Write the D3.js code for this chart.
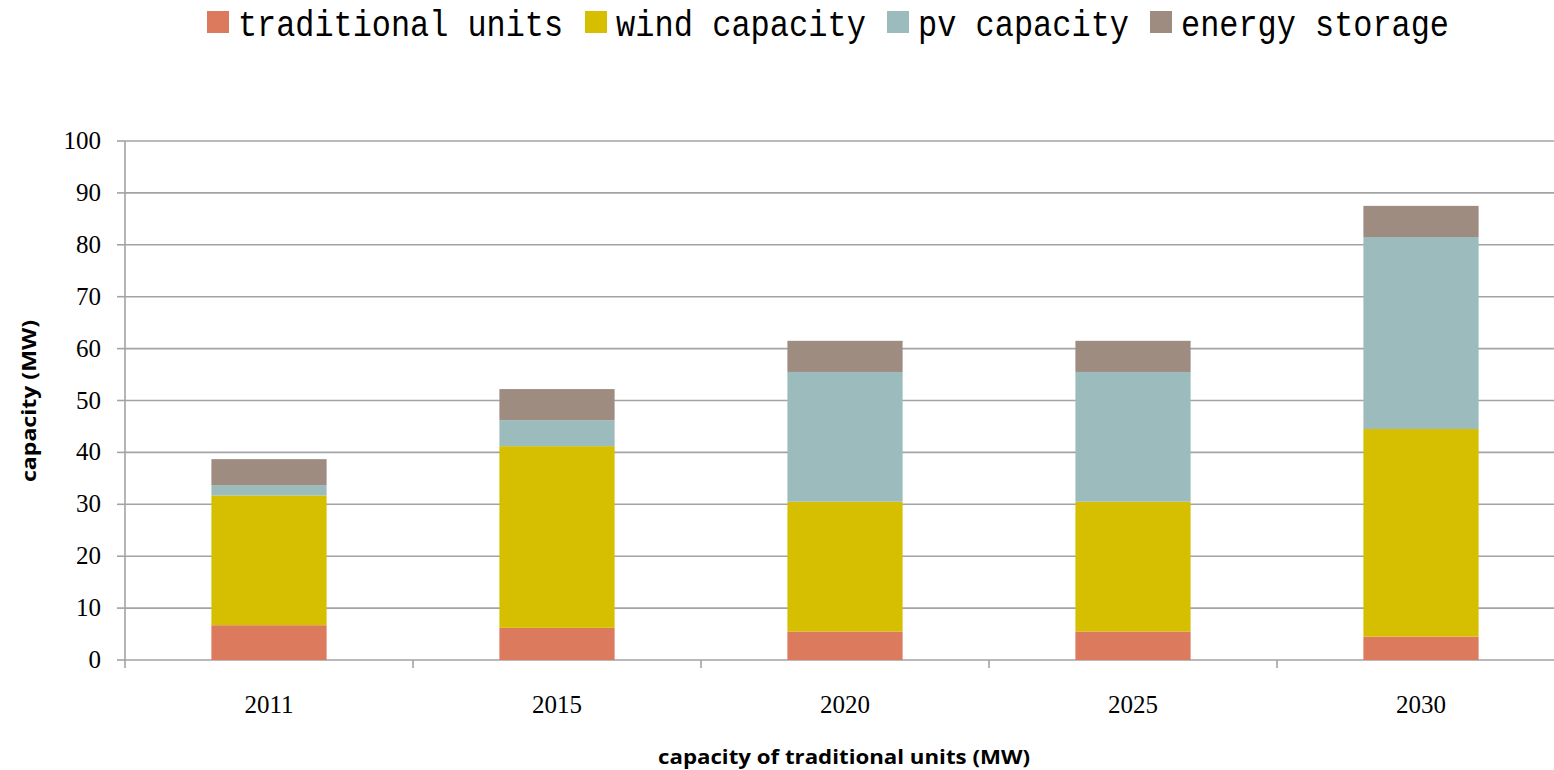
<!DOCTYPE html>
<html>
<head>
<meta charset="utf-8">
<script src="https://cdn.jsdelivr.net/npm/d3@7/dist/d3.min.js"></script>
<style>
  html, body { margin: 0; padding: 0; background: #fff; }
  svg { display: block; }
</style>
</head>
<body>
<svg id="chart" width="1554" height="770"></svg>
<script>
const years = ["2011", "2015", "2020", "2025", "2030"];
const traditionalUnits = [6.7, 6.2, 5.5, 5.5, 4.5];
const windCapacity = [25, 35, 25, 25, 40];
const pvCapacity = [2, 5, 25, 25, 37];
const energyStorage = [5, 6, 6, 6, 6];
const seriesNames = ["traditional units", "wind capacity", "pv capacity", "energy storage"];
const seriesColors = ["#dc7a5d", "#d5bf00", "#9cbbbc", "#9e8c81"];
const yTicks = [0, 10, 20, 30, 40, 50, 60, 70, 80, 90, 100];

const seriesKeys = ["trad", "wind", "pv", "storage"];
const rows = years.map((yr, i) => ({
  year: yr,
  trad: traditionalUnits[i],
  wind: windCapacity[i],
  pv: pvCapacity[i],
  storage: energyStorage[i]
}));

const svg = d3.select("#chart");
const plotLeft = 125, plotTop = 141, plotBottom = 660;
const bandW = 288;
const plotRight = plotLeft + bandW * years.length;

const x = d3.scaleBand().domain(years).range([plotLeft, plotRight]).paddingInner(0.6).paddingOuter(0.3);
const xOuter = d3.scaleBand().domain(years).range([plotLeft, plotRight]).padding(0);
const y = d3.scaleLinear().domain([0, 100]).range([plotBottom, plotTop]);
const gridColor = "#a3a3a3";

// gridlines
svg.append("g").selectAll("line").data(yTicks).join("line")
  .attr("x1", plotLeft).attr("x2", 1554)
  .attr("y1", d => y(d)).attr("y2", d => y(d))
  .attr("stroke", gridColor).attr("stroke-width", 1.6);

// y axis line and ticks
svg.append("line").attr("x1", plotLeft).attr("x2", plotLeft).attr("y1", plotTop).attr("y2", plotBottom + 8)
  .attr("stroke", gridColor).attr("stroke-width", 1.6);
svg.append("g").selectAll("line").data(yTicks).join("line")
  .attr("x1", plotLeft - 8).attr("x2", plotLeft)
  .attr("y1", d => y(d)).attr("y2", d => y(d))
  .attr("stroke", gridColor).attr("stroke-width", 1.6);

// x ticks at band boundaries
const xBoundaries = years.slice(1).map(yr => xOuter(yr));
svg.append("g").selectAll("line").data(xBoundaries).join("line")
  .attr("x1", d => d).attr("x2", d => d)
  .attr("y1", plotBottom).attr("y2", plotBottom + 8)
  .attr("stroke", gridColor).attr("stroke-width", 1.6);

// y labels
svg.append("g").selectAll("text").data(yTicks).join("text")
  .attr("x", 101).attr("y", d => y(d) + 8)
  .attr("text-anchor", "end")
  .attr("font-family", "'Liberation Serif', 'DejaVu Serif', serif")
  .attr("font-size", 25).attr("fill", "#000")
  .text(d => d);

// x labels
svg.append("g").selectAll("text").data(years).join("text")
  .attr("x", d => xOuter(d) + bandW / 2).attr("y", 713)
  .attr("text-anchor", "middle")
  .attr("font-family", "'Liberation Serif', 'DejaVu Serif', serif")
  .attr("font-size", 25).attr("fill", "#000")
  .text(d => d);

// stacked bars
const stack = d3.stack().keys(seriesKeys)(rows);
svg.append("g").selectAll("g").data(stack).join("g")
  .attr("fill", (d, i) => seriesColors[i])
  .selectAll("rect").data(d => d).join("rect")
  .attr("x", d => x(d.data.year))
  .attr("width", x.bandwidth())
  .attr("y", d => y(d[1]))
  .attr("height", d => y(d[0]) - y(d[1]));

// axis titles
svg.append("text")
  .attr("transform", "translate(36,401) rotate(-90)")
  .attr("text-anchor", "middle")
  .attr("font-family", "'Open Sans', 'Liberation Sans', sans-serif")
  .attr("font-weight", "bold").attr("font-size", 19)
  .attr("textLength", 162).attr("lengthAdjust", "spacingAndGlyphs")
  .text("capacity (MW)");

svg.append("text")
  .attr("x", 844).attr("y", 764)
  .attr("text-anchor", "middle")
  .attr("font-family", "'Open Sans', 'Liberation Sans', sans-serif")
  .attr("font-weight", "bold").attr("font-size", 20)
  .attr("textLength", 372).attr("lengthAdjust", "spacingAndGlyphs")
  .text("capacity of traditional units (MW)");

// legend
const legendSwatchX = [207, 585, 887, 1150];
const legendTextLen = [325, 250, 211, 268];
const lg = svg.append("g");
seriesNames.forEach((name, i) => {
  lg.append("rect")
    .attr("x", legendSwatchX[i]).attr("y", 11)
    .attr("width", 22).attr("height", 22)
    .attr("fill", seriesColors[i]);
  lg.append("text")
    .attr("x", legendSwatchX[i] + 31).attr("y", 36)
    .attr("font-family", "'Liberation Mono', 'DejaVu Sans Mono', monospace")
    .attr("font-size", 36).attr("fill", "#000")
    .attr("textLength", legendTextLen[i]).attr("lengthAdjust", "spacingAndGlyphs")
    .text(name);
});
</script>
</body>
</html>
